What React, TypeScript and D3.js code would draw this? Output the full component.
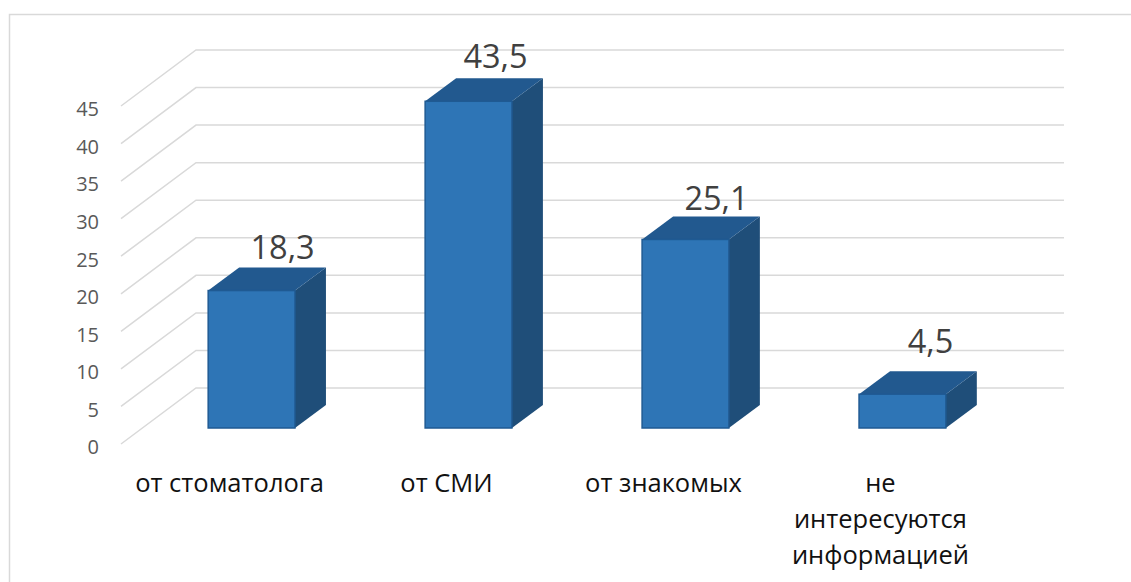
import React from "react";
import * as d3 from "d3";

const categories = ["от стоматолога", "от СМИ", "от знакомых", "не интересуются информацией"];
const categoryLines = [["от стоматолога"], ["от СМИ"], ["от знакомых"], ["не", "интересуются", "информацией"]];
const values = [18.3, 43.5, 25.1, 4.5];
const valueLabels = ["18,3", "43,5", "25,1", "4,5"];
const yTicks = [0, 5, 10, 15, 20, 25, 30, 35, 40, 45];

const width = 1131;
const height = 582;
const font = "'Open Sans', sans-serif";

// the 3d look: floor depth of the walls and depth of the bars
const wallFront = { dx: -75, dy: 56 };
const barDepth = { dx: 31, dy: -23 };
const gridRight = 1064;
// value labels were placed by hand in the original
const labelLift = [9, 10, 6, 18];
const labelShift = [0, -4, 0, -3];

const y = d3.scaleLinear().domain([0, 45]).range([388, 50]);
const barY = d3.scaleLinear().domain([0, 45]).range([428, 90]);
const x = d3.scaleBand<string>().domain(categories).range([78, 1076]).padding(0.6);

const App = () => {
  const grid = d3.line();
  return (
    <svg width={width} height={height} style={{ position: "absolute", left: 0, top: 0, background: "#fff" }}>
      <path d={`M9.5,${height} V14.5 H${width}`} fill="none" stroke="#d9d9d9" strokeWidth={1.5} />

      {yTicks.map((t) => (
        <g key={t}>
          <path
            d={
              grid([
                [196 + wallFront.dx, y(t) + wallFront.dy],
                [196, y(t)],
                [gridRight, y(t)],
              ]) as string
            }
            fill="none"
            stroke="#d9d9d9"
            strokeWidth={1.5}
          />
          <text
            x={99}
            y={y(t) + wallFront.dy + 5}
            textAnchor="end"
            dominantBaseline="middle"
            fontFamily={font}
            fontSize={20}
            fill="#595959"
          >
            {t}
          </text>
        </g>
      ))}

      {categories.map((c, i) => {
        const x0 = x(c) as number;
        const x1 = x0 + x.bandwidth();
        const top = barY(values[i]);
        const base = barY(0);
        const { dx, dy } = barDepth;
        return (
          <g key={c}>
            <path d={`M${x1},${top} L${x1 + dx},${top + dy} V${base + dy} L${x1},${base} Z`} fill="#1f4e79" />
            <path
              d={`M${x0},${top} L${x0 + dx},${top + dy} H${x1 + dx} L${x1},${top} Z`}
              fill="#22598f"
            />
            <rect
              x={x0}
              y={top}
              width={x1 - x0}
              height={base - top}
              fill="#2e75b6"
              stroke="#1f5a93"
              strokeWidth={1.5}
            />
            <text
              x={x0 + x.bandwidth() / 2 + dx + labelShift[i]}
              y={top + dy - labelLift[i]}
              textAnchor="middle"
              fontFamily={font}
              fontSize={32.5}
              fill="#404040"
            >
              {valueLabels[i]}
            </text>
            {categoryLines[i].map((line, j) => (
              <text
                key={line}
                x={x0 + x.bandwidth() / 2 - 22}
                y={492 + j * 36}
                textAnchor="middle"
                fontFamily={font}
                fontSize={25.5}
                fill="#111"
              >
                {line}
              </text>
            ))}
          </g>
        );
      })}
    </svg>
  );
};

export default App;
